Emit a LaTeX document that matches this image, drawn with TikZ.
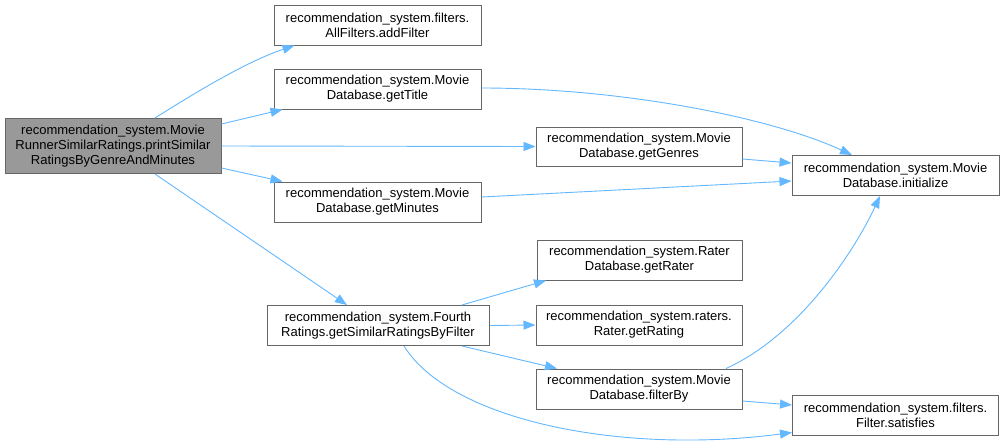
\documentclass[tikz,border=0pt]{standalone}
\usepackage{fontspec}
\setmainfont{Liberation Sans}
\usetikzlibrary{arrows.meta}
\definecolor{edgec}{HTML}{63B8FF}
\definecolor{boxc}{HTML}{666666}
\definecolor{mainfill}{HTML}{999999}
\begin{document}
\begin{tikzpicture}[x=1pt,y=-1pt,
  box/.style={draw=boxc, line width=1pt, fill=white, inner sep=0pt, align=center,
    minimum height=40pt, font=\fontsize{13}{15}\selectfont},
  mainbox/.style={box, fill=mainfill},
  edge/.style={draw=edgec, line width=0.9pt, -{Triangle[length=12pt,width=9pt]}}]
\useasboundingbox (0,0) rectangle (1004,445);
\fill[white] (0,0) rectangle (1004,445);

\node[mainbox, minimum width=216pt, minimum height=55pt] (main) at (113,146)
  {recommendation\_system.Movie\\RunnerSimilarRatings.printSimilar\\RatingsByGenreAndMinutes};
\node[box, minimum width=207pt] (addFilter) at (377.5,25)
  {recommendation\_system.filters.\\AllFilters.addFilter};
\node[box, minimum width=207pt] (getTitle) at (377.5,89)
  {recommendation\_system.Movie\\Database.getTitle};
\node[box, minimum width=207pt] (getMinutes) at (377.5,202)
  {recommendation\_system.Movie\\Database.getMinutes};
\node[box, minimum width=206pt, minimum height=39pt] (getGenres) at (639,146.5)
  {recommendation\_system.Movie\\Database.getGenres};
\node[box, minimum width=207pt] (initialize) at (895.5,175.5)
  {recommendation\_system.Movie\\Database.initialize};
\node[box, minimum width=222pt] (getSimilar) at (378,325.5)
  {recommendation\_system.Fourth\\Ratings.getSimilarRatingsByFilter};
\node[box, minimum width=205pt] (getRater) at (639.5,260)
  {recommendation\_system.Rater\\Database.getRater};
\node[box, minimum width=206pt] (getRating) at (639,325)
  {recommendation\_system.raters.\\Rater.getRating};
\node[box, minimum width=206pt] (filterBy) at (639,389)
  {recommendation\_system.Movie\\Database.filterBy};
\node[box, minimum width=206pt] (satisfies) at (895.5,415.5)
  {recommendation\_system.filters.\\Filter.satisfies};

\draw[edge] ([xshift=42pt]main.north) .. controls (190,96) and (245,62) .. ([xshift=-83pt]addFilter.south);
\draw[edge] ([yshift=22pt]main.east) -- ([xshift=-95pt]getTitle.south);
\draw[edge] (main.east) -- (getGenres.west);
\draw[edge] ([yshift=-22pt]main.east) -- ([xshift=-95pt]getMinutes.north);
\draw[edge] ([xshift=42pt]main.south) -- ([xshift=-31pt]getSimilar.north);
\draw[edge] ([yshift=1pt]getTitle.east) .. controls (620,88) and (770,117) .. ([xshift=-43.5pt]initialize.north);
\draw[edge] ([yshift=-12.5pt]getGenres.east) -- ([yshift=12.5pt]initialize.west);
\draw[edge] ([yshift=5pt]getMinutes.east) -- ([yshift=-5.5pt]initialize.west);
\draw[edge] ([xshift=87pt]filterBy.north) .. controls (800,335) and (855,250) .. ([xshift=-15.5pt]initialize.south);
\draw[edge] ([xshift=84pt]getSimilar.north) -- ([xshift=-93.5pt]getRater.south);
\draw[edge] (getSimilar.east) -- (getRating.west);
\draw[edge] ([xshift=84pt]getSimilar.south) -- ([xshift=-82pt]filterBy.north);
\draw[edge] ([xshift=26pt]getSimilar.south) .. controls (450,420) and (620,455) .. ([yshift=-17pt]satisfies.west);
\draw[edge] ([yshift=-12pt]filterBy.east) -- ([yshift=10.5pt]satisfies.west);
\end{tikzpicture}
\end{document}
